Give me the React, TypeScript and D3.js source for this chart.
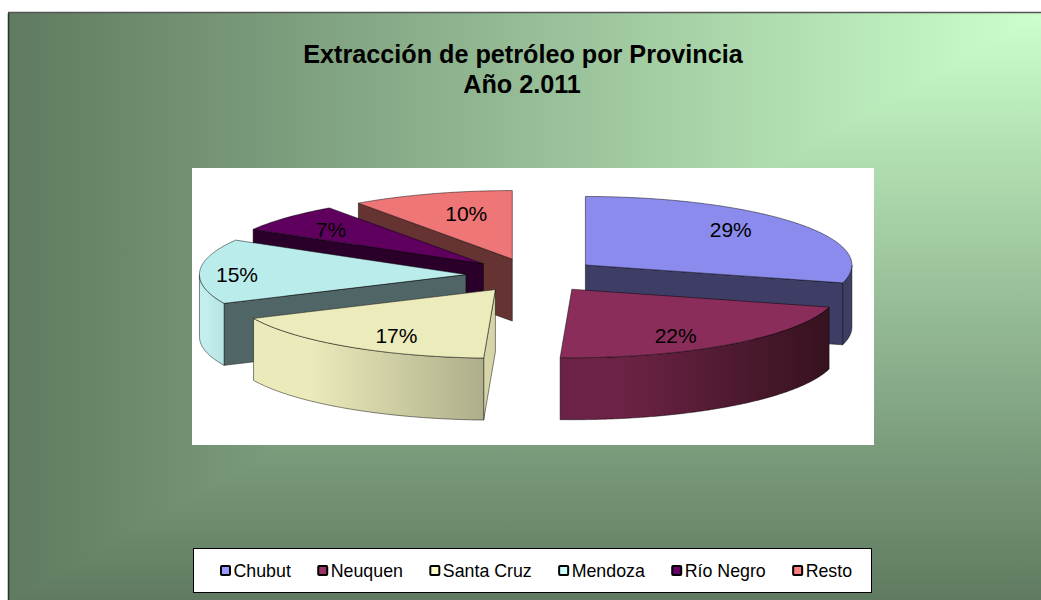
import * as d3 from 'd3'

const provinces = ['Chubut', 'Neuquen', 'Santa Cruz', 'Mendoza', 'Río Negro', 'Resto']
// unrounded shares, the labels round them
const shares = [29.2, 21.5, 17.4, 15.3, 6.8, 9.8]

const swatchColors = ['#9999ff', '#993366', '#ffffcc', '#ccffff', '#660066', '#ff8080']
const topColors = ['#8b8bee', '#8b2d5a', '#ecebbc', '#bbecec', '#5f005f', '#ef7676']
const wallColors = ['#3d3d66', '#3d1426', '#d6d5a8', '#506666', '#2a002a', '#663333']
const rimLeftColors = ['#3d3d66', '#6b2244', '#ebeaba', '#c4eeee', '#2a002a', '#663333']
const rimRightColors = ['#3d3d66', '#36121f', '#aeae8b', '#b5e3e3', '#2a002a', '#663333']

// where each % label sits along its slice (fraction of radius, x and y), Excel places them unevenly
const labelFracX = [0.687, 0.66, 0.667, 0.86, 0.775, 0.57]
const labelFracY = [0.83, 0.85, 0.82, 0, 0.73, 0.69]

const W = 1041
const H = 600
const frame = { x: 8, y: 13 }
const CX = 532.5
const CY = 275.4
const RX = 266.5
const RY = 68.5
const DEPTH = 62
const EXPLODE = 0.25
const FONT = '"Liberation Sans", Arial, sans-serif'

type P = [number, number]
const line = d3.line<P>()

const pt = (o: P, a: number, dy = 0): P => [o[0] + RX * Math.sin(a), o[1] - RY * Math.cos(a) + dy]

const arcPts = (o: P, a0: number, a1: number, dy = 0): P[] => {
  const n = Math.max(2, Math.ceil(Math.abs(a1 - a0) / 0.01))
  return d3.range(n + 1).map(i => pt(o, a0 + ((a1 - a0) * i) / n, dy))
}

const wallPath = (o: P, a: number) => {
  const e = pt(o, a)
  const pts: P[] = [o, e, [e[0], e[1] + DEPTH], [o[0], o[1] + DEPTH]]
  return line(pts) + 'Z'
}

const slices = d3.pie<number>().sort(null).value(d => d)(shares)
  .map((s, i) => {
    const mid = (s.startAngle + s.endAngle) / 2
    const apex: P = [CX + EXPLODE * RX * Math.sin(mid), CY - EXPLODE * RY * Math.cos(mid)]
    return { i, a0: s.startAngle, a1: s.endAngle, mid, apex }
  })
  .sort((a, b) => -Math.cos(a.mid) - -Math.cos(b.mid))

// legend text widths come from the real font
const LEGEND_SIZE = 17.8
const ctx = document.createElement('canvas').getContext('2d')!
ctx.font = `${LEGEND_SIZE}px ${FONT}`
const legendX = provinces.reduce<number[]>((acc, name, i) => {
  const prev = i === 0 ? 220 : acc[i - 1] + 13.5 + ctx.measureText(provinces[i - 1]).width + 26.4
  return [...acc, prev]
}, [])

export default function App() {
  return (
    <svg width={W} height={H} style={{ position: 'absolute', left: 0, top: 0, background: '#fff' }}>
      <defs>
        <linearGradient id="bgH" gradientUnits="userSpaceOnUse" x1={W} y1={0} x2={frame.x} y2={0}>
          <stop offset="0" stopColor="#ccffcc" />
          <stop offset="1" stopColor="#5f7a60" />
        </linearGradient>
        <linearGradient id="bgV" gradientUnits="userSpaceOnUse" x1={0} y1={frame.y} x2={0} y2={H}>
          <stop offset="0" stopColor="#ccffcc" />
          <stop offset="1" stopColor="#5f7a60" />
        </linearGradient>
        {slices.map(s => {
          const from = Math.max(s.a0, Math.PI / 2)
          const to = Math.min(s.a1, (3 * Math.PI) / 2)
          const xs = to > from ? arcPts(s.apex, from, to).map(p => p[0]) : [0, 1]
          return (
            <linearGradient key={s.i} id={`rim${s.i}`} gradientUnits="userSpaceOnUse"
              x1={d3.min(xs)} y1={0} x2={d3.max(xs)} y2={0}>
              <stop offset="0" stopColor={rimLeftColors[s.i]} />
              <stop offset="0.25" stopColor={rimLeftColors[s.i]} />
              <stop offset="1" stopColor={rimRightColors[s.i]} />
            </linearGradient>
          )
        })}
      </defs>

      {/* from-corner gradient: two triangles split on the diagonal */}
      <rect x={frame.x} y={frame.y} width={W - frame.x} height={H - frame.y} fill="url(#bgV)" />
      <path d={`M${frame.x},${frame.y}L${W},${frame.y}L${frame.x},${H}Z`} fill="url(#bgH)" />
      <line x1={frame.x} y1={frame.y - 0.5} x2={W} y2={frame.y - 0.5} stroke="#555" strokeWidth={1.5} />
      <line x1={frame.x + 0.5} y1={frame.y} x2={frame.x + 0.5} y2={H} stroke="#26332a" strokeWidth={1.5} />

      <g fontFamily={FONT} fontWeight="bold" fontSize={25.2} textAnchor="middle" fill="#000">
        <text x={523} y={63}>Extracción de petróleo por Provincia</text>
        <text x={522} y={93}>Año 2.011</text>
      </g>

      <rect x={192} y={168} width={682} height={277} fill="#fff" />

      {slices.map(s => {
        const from = Math.max(s.a0, Math.PI / 2)
        const to = Math.min(s.a1, (3 * Math.PI) / 2)
        const edge = { stroke: '#000', strokeOpacity: 0.6, strokeWidth: 0.8, strokeLinejoin: 'round' as const }
        const topPts: P[] = [s.apex, ...arcPts(s.apex, s.a0, s.a1)]
        return (
          <g key={s.i}>
            {Math.sin(s.a0) < -1e-6 && <path d={wallPath(s.apex, s.a0)} fill={wallColors[s.i]} {...edge} />}
            {Math.sin(s.a1) > 1e-6 && <path d={wallPath(s.apex, s.a1)} fill={wallColors[s.i]} {...edge} />}
            {to > from && (
              <path
                d={line([...arcPts(s.apex, from, to), ...arcPts(s.apex, to, from, DEPTH)]) + 'Z'}
                fill={`url(#rim${s.i})`}
                {...edge}
              />
            )}
            <path d={line(topPts) + 'Z'} fill={topColors[s.i]} {...edge} />
          </g>
        )
      })}

      <g fontFamily={FONT} fontSize={21} textAnchor="middle" fill="#000">
        {slices.map(s => (
          <text
            key={s.i}
            x={s.apex[0] + RX * Math.sin(s.mid) * labelFracX[s.i]}
            y={s.apex[1] - RY * Math.cos(s.mid) * labelFracY[s.i] + 7}
          >
            {Math.round(shares[s.i])}%
          </text>
        ))}
      </g>

      <rect x={193.5} y={548.5} width={678} height={44} fill="#fff" stroke="#000" strokeWidth={1} />
      <g fontFamily={FONT} fontSize={LEGEND_SIZE} fill="#000">
        {provinces.map((name, i) => (
          <g key={name}>
            <rect x={legendX[i] + 1} y={566} width={9} height={9} rx={1}
              fill={swatchColors[i]} stroke="#000" strokeWidth={2} />
            <text x={legendX[i] + 13.5} y={577}>{name}</text>
          </g>
        ))}
      </g>
    </svg>
  )
}
